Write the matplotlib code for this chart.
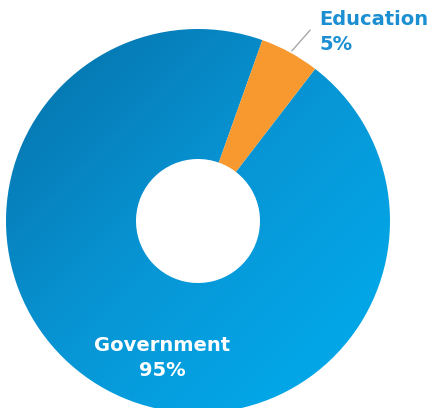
import numpy as np
import matplotlib.pyplot as plt
from matplotlib.colors import LinearSegmentedColormap

labels = ["Education", "Government"]
shares = [5, 95]
colors = ["#f7992f", "none"]

fig = plt.figure(figsize=(4.28, 4.08), dpi=100)
ax = fig.add_axes([0, 0, 1, 1])

cx, cy, R = 198, 187, 192
wedges, _ = ax.pie(shares, colors=colors, radius=R, center=(cx, cy),
                   startangle=70.4, counterclock=False,
                   wedgeprops=dict(width=R - 62, linewidth=0), frame=True)
ax.axis("off")
ax.set_xlim(0, 428)
ax.set_ylim(0, 408)
ax.set_aspect("equal")

# diagonal gradient for the big slice
cmap = LinearSegmentedColormap.from_list("blu", ["#0570a8", "#0896d6", "#00aeef"])
xx, yy = np.meshgrid(np.linspace(0, 1, 300), np.linspace(0, 1, 300))
grad = (xx + (1 - yy)) / 2
img = ax.imshow(grad, cmap=cmap, extent=(cx - R, cx + R, cy + R, cy - R),
                origin="upper", zorder=0.5)
img.set_clip_path(wedges[1])

# labels
ax.annotate("", xy=(290, 408 - 53), xytext=(312, 408 - 28),
            arrowprops=dict(arrowstyle="-", color="#a8a8a8", lw=1))
ax.text(319, 408 - 32, "Education\n5%", color="#1b8fd2", fontsize=14,
        fontweight="bold", ha="left", va="center", linespacing=1.4)
ax.text(162, 408 - 358, "Government\n95%", color="white", fontsize=14,
        fontweight="bold", ha="center", va="center", linespacing=1.4)

fig.savefig("out.png", dpi=100)
